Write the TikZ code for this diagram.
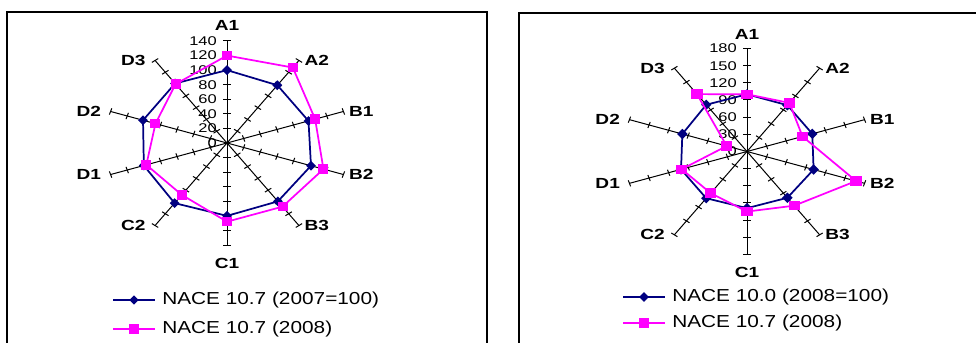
\documentclass[tikz,border=0pt]{standalone}
\usepackage{fontspec}
\setmainfont{Liberation Sans}[FakeStretch=1.2]
\newfontfamily\chartfont{Liberation Sans}[FakeStretch=1.3]
\usetikzlibrary{positioning,shapes.geometric}
\definecolor{serblue}{RGB}{0,0,128}
\definecolor{sermag}{RGB}{255,0,255}
\tikzset{
  chartframe/.style={line width=1.1pt},
  spoke/.style={line width=.75pt},
  blueline/.style={serblue,line width=1.3pt,line join=round},
  magline/.style={sermag,line width=1.3pt,line join=round},
  dmd/.style={diamond,fill=serblue,inner sep=0,minimum size=#1},
  dmd/.default=7.5pt,
  sqr/.style={rectangle,fill=sermag,inner sep=0,minimum width=#1,minimum height=7pt},
  sqr/.default=7.5pt,
  ticklab/.style={inner sep=0,font=\chartfont\fontsize{9.5}{10}\selectfont},
  axlab/.style={inner sep=0,font=\chartfont\fontsize{11}{12}\selectfont\bfseries},
  legtxt/.style={anchor=west,inner sep=0,font=\fontsize{13}{14}\selectfont}
}
\begin{document}
\begin{tikzpicture}[x=.75pt,y=.75pt]
  \useasboundingbox (0,0) rectangle (976,343);
  \draw[chartframe] (7,0) -- (7,331) -- (487,331) -- (487,0);
  \draw[chartframe] (519,0) -- (519,330) -- (976,330);

  % left chart, 0..140
  \begin{scope}[shift={(227,200)},xscale=1.2,scale=0.7286]
    \foreach \i in {1,...,10}{
      \coordinate (La\i) at ({126-36*\i}:140);
      \draw[spoke] (0,0) -- (La\i);
      \foreach \v in {20,40,...,140}
        \draw[spoke,rotate={126-36*\i}] (\v,-4.5) -- (\v,4.5);
    }
    \foreach \v in {0,20,...,140}
      \node[ticklab,left=7.5pt] (Lt\v) at (0,\v) {\v};

    \foreach \v [count=\i] in {100,98,98,101,99,100,102,100,101,101}
      \coordinate (Lb\i) at ({126-36*\i}:\v);
    \foreach \v [count=\i] in {120,128,106,116,108,108,88,97,86,100}
      \coordinate (Lm\i) at ({126-36*\i}:\v);
  \end{scope}
  \draw[blueline] (Lb1) -- (Lb2) -- (Lb3) -- (Lb4) -- (Lb5) -- (Lb6) -- (Lb7) -- (Lb8) -- (Lb9) -- (Lb10) -- cycle;
  \foreach \i in {1,...,10} \node[dmd] (Lbm\i) at (Lb\i) {};
  \draw[magline] (Lm1) -- (Lm2) -- (Lm3) -- (Lm4) -- (Lm5) -- (Lm6) -- (Lm7) -- (Lm8) -- (Lm9) -- (Lm10) -- cycle;
  \foreach \i in {1,...,10} \node[sqr] (Lmm\i) at (Lm\i) {};

  \node[axlab,above=8pt of La1] (LlA1) {A1};
  \node[axlab,right=4pt of La2] (LlA2) {A2};
  \node[axlab,right=4pt of La3] (LlB1) {B1};
  \node[axlab,right=4pt of La4] (LlB2) {B2};
  \node[axlab,right=4pt of La5] (LlB3) {B3};
  \node[axlab,below=10pt of La6] (LlC1) {C1};
  \node[axlab,left=7pt of La7] (LlC2) {C2};
  \node[axlab,left=7pt of La8] (LlD1) {D1};
  \node[axlab,left=7pt of La9] (LlD2) {D2};
  \node[axlab,left=7pt of La10] (LlD3) {D3};

  \coordinate (Lk1a) at (113,43); \coordinate (Lk1b) at (155,43);
  \draw[blueline] (Lk1a) -- (Lk1b) node[midway,dmd] (Lk1m) {};
  \node[legtxt] (Lk1t) at (162,43) {NACE 10.7 (2007=100)};
  \coordinate (Lk2a) at (113,14); \coordinate (Lk2b) at (155,14);
  \draw[magline] (Lk2a) -- (Lk2b) node[midway,sqr] (Lk2m) {};
  \node[legtxt] (Lk2t) at (162,14) {NACE 10.7 (2008)};

  % right chart, 0..180
  \begin{scope}[shift={(747,191.5)},xscale=1.2,scale=0.5722]
    \foreach \i in {1,...,10}{
      \coordinate (Ra\i) at ({126-36*\i}:180);
      \draw[spoke] (0,0) -- (Ra\i);
      \foreach \v in {30,60,...,180}
        \draw[spoke,rotate={126-36*\i}] (\v,-5.5) -- (\v,5.5);
    }
    \foreach \v in {0,30,...,180}
      \node[ticklab,left=7.5pt] (Rt\v) at (0,\v) {\v};

    \foreach \v [count=\i] in {100,100,100,102,100,99,101,101,99,101}
      \coordinate (Rb\i) at ({126-36*\i}:\v);
    \foreach \v [count=\i] in {100,105,85,167,117,105,90,100,31,124}
      \coordinate (Rm\i) at ({126-36*\i}:\v);
  \end{scope}
  \draw[blueline] (Rb1) -- (Rb2) -- (Rb3) -- (Rb4) -- (Rb5) -- (Rb6) -- (Rb7) -- (Rb8) -- (Rb9) -- (Rb10) -- cycle;
  \foreach \i in {1,...,10} \node[dmd=8pt] (Rbm\i) at (Rb\i) {};
  \draw[magline] (Rm1) -- (Rm2) -- (Rm3) -- (Rm4) -- (Rm5) -- (Rm6) -- (Rm7) -- (Rm8) -- (Rm9) -- (Rm10) -- cycle;
  \foreach \i in {1,...,10} \node[sqr=8.5pt] (Rmm\i) at (Rm\i) {};

  \node[axlab,above=6.5pt of Ra1] (RlA1) {A1};
  \node[axlab,right=4pt of Ra2] (RlA2) {A2};
  \node[axlab,right=4pt of Ra3] (RlB1) {B1};
  \node[axlab,right=4pt of Ra4] (RlB2) {B2};
  \node[axlab,right=4pt of Ra5] (RlB3) {B3};
  \node[axlab,below=9pt of Ra6] (RlC1) {C1};
  \node[axlab,left=7pt of Ra7] (RlC2) {C2};
  \node[axlab,left=7pt of Ra8] (RlD1) {D1};
  \node[axlab,left=7pt of Ra9] (RlD2) {D2};
  \node[axlab,left=7pt of Ra10] (RlD3) {D3};

  \coordinate (Rk1a) at (623,46); \coordinate (Rk1b) at (665,46);
  \draw[blueline] (Rk1a) -- (Rk1b) node[midway,dmd=8pt] (Rk1m) {};
  \node[legtxt] (Rk1t) at (672,46) {NACE 10.0 (2008=100)};
  \coordinate (Rk2a) at (623,20); \coordinate (Rk2b) at (665,20);
  \draw[magline] (Rk2a) -- (Rk2b) node[midway,sqr] (Rk2m) {};
  \node[legtxt] (Rk2t) at (672,20) {NACE 10.7 (2008)};
\end{tikzpicture}
\end{document}
